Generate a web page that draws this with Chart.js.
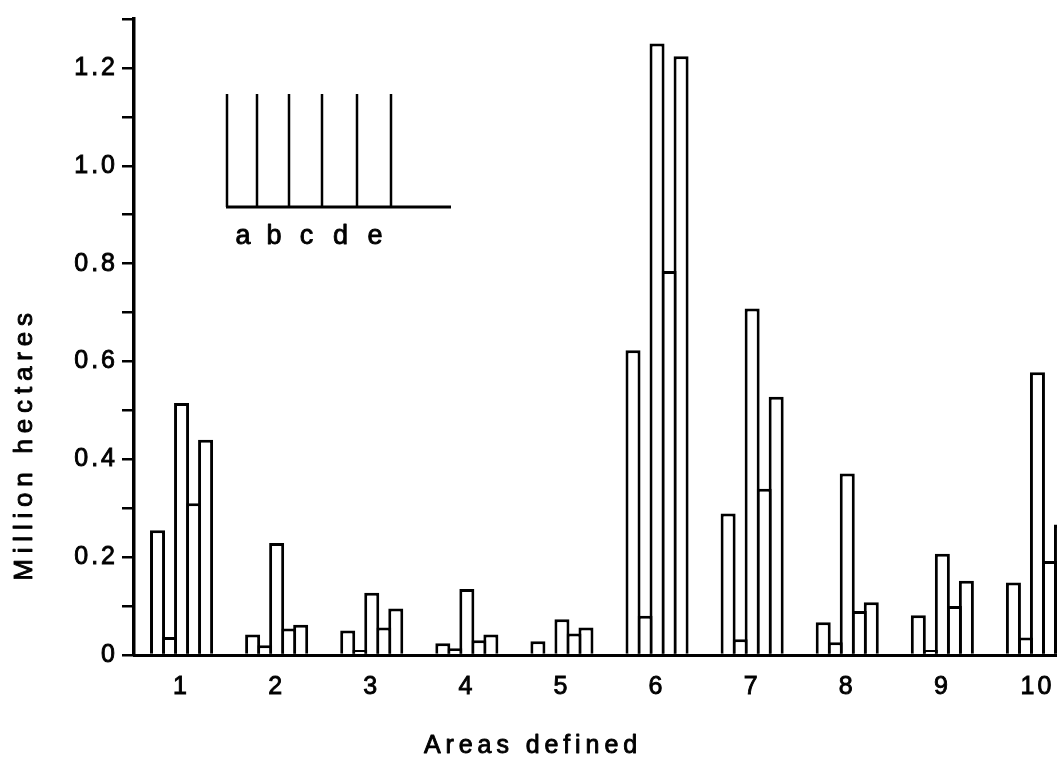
<!DOCTYPE html>
<html>
<head>
<meta charset="utf-8">
<script src="https://cdn.jsdelivr.net/npm/chart.js@4.4.1/dist/chart.umd.min.js"></script>
<style>
  html, body { margin: 0; padding: 0; overflow: hidden; background: #fff; width: 1057px; height: 757px; }
  canvas { display: block; }
</style>
</head>
<body>
<canvas id="c" width="1085" height="757"></canvas>
<script>
// ---- data ----
const categories = ['1', '2', '3', '4', '5', '6', '7', '8', '9', '10'];
const seriesNames = ['a', 'b', 'c', 'd', 'e'];
const seriesA = [0.255, 0.042, 0.050, 0.024, 0.028, 0.623, 0.289, 0.067, 0.081, 0.148];
const seriesB = [0.037, 0.020, 0.010, 0.014, 0.003, 0.080, 0.032, 0.026, 0.010, 0.036];
const seriesC = [0.515, 0.229, 0.127, 0.135, 0.073, 1.250, 0.708, 0.371, 0.207, 0.578];
const seriesD = [0.310, 0.054, 0.056, 0.030, 0.044, 0.785, 0.340, 0.090, 0.100, 0.192];
const seriesE = [0.440, 0.062, 0.095, 0.042, 0.056, 1.224, 0.528, 0.108, 0.152, 0.267];
const yTickLabels = ['0', '0.2', '0.4', '0.6', '0.8', '1.0', '1.2'];
const xTitle = 'Areas defined';
const yTitle = 'Million hectares';

const FONT = "'Liberation Sans', Arial, Helvetica, sans-serif";
const TEXT_STROKE = 0.9;
const allSeries = [seriesA, seriesB, seriesC, seriesD, seriesE];

const datasets = allSeries.map((s, i) => ({
  label: seriesNames[i],
  data: s,
  backgroundColor: '#ffffff',
  borderColor: '#000000',
  borderWidth: 3,
  borderSkipped: 'start',
  categoryPercentage: 60 / 95,
  barPercentage: 1.25
}));

const spacingPlugin = {
  id: 'spacing',
  beforeDraw(chart) { chart.ctx.letterSpacing = '3px'; },
  afterDraw(chart) { chart.ctx.letterSpacing = '0px'; }
};

function heavyText(ctx, text, x, y) {
  ctx.fillText(text, x, y);
  ctx.strokeText(text, x, y);
}

const decorPlugin = {
  id: 'decor',
  afterDraw(chart) {
    const ctx = chart.ctx;
    ctx.save();
    ctx.fillStyle = '#000';
    ctx.strokeStyle = '#000';
    // inset key
    const xs = [227, 257, 289, 322, 357, 391];
    const top = 94, base = 207;
    ctx.lineWidth = 2.5;
    xs.forEach(x => { ctx.beginPath(); ctx.moveTo(x, top); ctx.lineTo(x, base); ctx.stroke(); });
    ctx.lineWidth = 3;
    ctx.beginPath(); ctx.moveTo(226, base); ctx.lineTo(451, base); ctx.stroke();
    ctx.lineWidth = TEXT_STROKE;
    ctx.lineJoin = 'round';
    ctx.font = '27px ' + FONT;
    ctx.letterSpacing = '0px';
    ctx.textAlign = 'center';
    ctx.textBaseline = 'alphabetic';
    seriesNames.forEach((n, i) => {
      heavyText(ctx, n, (xs[i] + xs[i + 1]) / 2 + 1, 244);
    });
    // x title
    ctx.font = '25px ' + FONT;
    ctx.letterSpacing = '4.9px';
    ctx.textAlign = 'center';
    heavyText(ctx, xTitle, 533, 753);
    // y title
    ctx.save();
    ctx.font = '26px ' + FONT;
    ctx.letterSpacing = '5.8px';
    ctx.translate(32, 444);
    ctx.rotate(-Math.PI / 2);
    ctx.textAlign = 'center';
    heavyText(ctx, yTitle, 0, 0);
    ctx.restore();
    ctx.restore();
  }
};

new Chart(document.getElementById('c'), {
  type: 'bar',
  data: { labels: categories, datasets },
  plugins: [spacingPlugin, decorPlugin],
  options: {
    responsive: false,
    animation: false,
    devicePixelRatio: 1,
    layout: { padding: { top: 15, right: 0, bottom: 0, left: 0 } },
    plugins: { legend: { display: false }, tooltip: { enabled: false }, title: { display: false } },
    scales: {
      x: {
        type: 'category',
        grid: { display: false, drawTicks: false },
        border: { display: true, color: '#000', width: 3 },
        ticks: {
          color: '#000', font: { family: FONT, size: 25 }, padding: 17, maxRotation: 0, autoSkip: false,
          textStrokeColor: '#000', textStrokeWidth: TEXT_STROKE
        },
        afterFit(scale) { scale.height = 102; }
      },
      y: {
        min: 0,
        max: 1.3,
        grid: { display: true, drawOnChartArea: false, drawTicks: true, tickLength: 12, color: '#000', lineWidth: 2.5 },
        border: { display: true, color: '#000', width: 3.5 },
        ticks: {
          stepSize: 0.1,
          color: '#000',
          font: { family: FONT, size: 25 },
          padding: 4,
          textStrokeColor: '#000',
          textStrokeWidth: TEXT_STROKE,
          callback(value) {
            const idx = Math.round(value * 10);
            if (idx % 2 === 0 && idx / 2 < yTickLabels.length) return yTickLabels[idx / 2];
            return '';
          }
        },
        afterFit(scale) { scale.width = 134; }
      }
    }
  }
});
</script>
</body>
</html>
